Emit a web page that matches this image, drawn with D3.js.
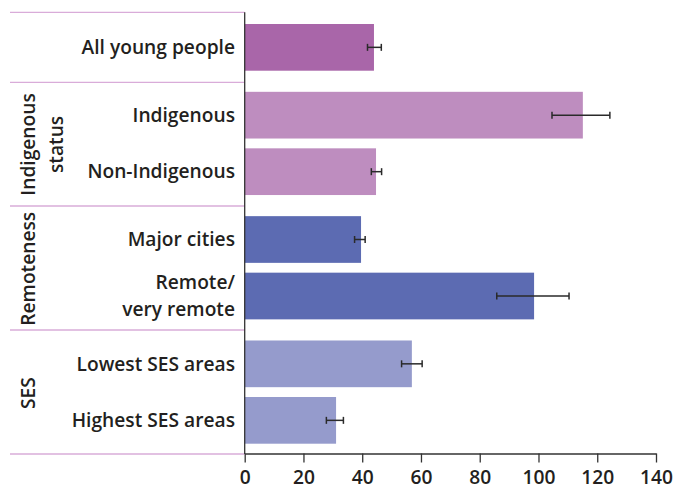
<!DOCTYPE html>
<html>
<head>
<meta charset="utf-8">
<script src="https://cdn.jsdelivr.net/npm/d3@7"></script>
<style>
  html, body { margin: 0; padding: 0; background: #fff; }
  svg text { font-family: "Open Sans", "Noto Sans", sans-serif; font-weight: 600; fill: #231f20; }
</style>
</head>
<body>
<svg id="chart" width="674" height="489"></svg>
<script>
// Rates by population group, with confidence intervals
const categories = ["All young people", "Indigenous", "Non-Indigenous", "Major cities", "Remote/\nvery remote", "Lowest SES areas", "Highest SES areas"];
const groups = ["All", "Indigenous status", "Indigenous status", "Remoteness", "Remoteness", "SES", "SES"];
const values = [44.0, 115.1, 44.7, 39.6, 98.5, 56.9, 31.1];
const lower = [41.8, 104.6, 43.1, 37.4, 85.8, 53.4, 27.8];
const upper = [46.5, 124.3, 46.6, 41.0, 110.4, 60.4, 33.6];
const groupLabels = [
  { name: "Indigenous status", lines: ["Indigenous", "status"] },
  { name: "Remoteness", lines: ["Remoteness"] },
  { name: "SES", lines: ["SES"] }
];
const xTicks = [0, 20, 40, 60, 80, 100, 120, 140];
const colors = { "All": "#a966a9", "Indigenous status": "#be8dbf", "Remoteness": "#5c6bb2", "SES": "#959bcc" };

const fontSize = 19.2;
const svg = d3.select("#chart");
const x0 = 244.7, xMaxPx = 656;
const x = d3.scaleLinear().domain([0, 140]).range([x0, xMaxPx]);

// slot positions: extra spacing between groups
const slots = [];
let pos = 0;
groups.forEach((g, i) => {
  if (i > 0 && g !== groups[i - 1]) pos += 0.2;
  slots.push(pos);
  pos += 1;
});
const y = d3.scaleLinear().domain([0, slots[slots.length - 1]]).range([24, 397]);
const barH = 46.7;

// group separator lines
const sepY = [12.3, 82.3, 206, 330, 454];
svg.selectAll("line.sep").data(sepY).join("line")
  .attr("x1", 10).attr("x2", x0)
  .attr("y1", d => d).attr("y2", d => d)
  .attr("stroke", "#d9acd9").attr("stroke-width", 1.3);

// bars
svg.selectAll("rect.bar").data(values).join("rect")
  .attr("x", x(0))
  .attr("y", (d, i) => y(slots[i]))
  .attr("width", d => x(d) - x(0))
  .attr("height", barH)
  .attr("fill", (d, i) => colors[groups[i]]);

// error bars
const eb = svg.append("g").attr("stroke", "#2a2a2a").attr("stroke-width", 1.5);
values.forEach((v, i) => {
  const cy = y(slots[i]) + barH / 2;
  eb.append("line").attr("x1", x(lower[i])).attr("x2", x(upper[i])).attr("y1", cy).attr("y2", cy);
  [lower[i], upper[i]].forEach(e => {
    eb.append("line").attr("x1", x(e)).attr("x2", x(e)).attr("y1", cy - 3.5).attr("y2", cy + 3.5);
  });
});

// category labels
categories.forEach((c, i) => {
  const cy = y(slots[i]) + barH / 2;
  const lines = c.split("\n");
  const t = svg.append("text")
    .attr("x", 235).attr("text-anchor", "end")
    .attr("font-size", fontSize);
  lines.forEach((ln, j) => {
    t.append("tspan").attr("x", 235)
      .attr("y", cy + (j - (lines.length - 1) / 2) * 27)
      .attr("dy", "0.35em").text(ln);
  });
});

// group labels (rotated)
groupLabels.forEach(gl => {
  const idx = groups.map((g, i) => g === gl.name ? i : -1).filter(i => i >= 0);
  const top = y(slots[idx[0]]), bot = y(slots[idx[idx.length - 1]]) + barH;
  const cy = (top + bot) / 2 + 1;
  const t = svg.append("text")
    .attr("transform", `translate(28,${cy}) rotate(-90)`)
    .attr("text-anchor", "middle")
    .attr("font-size", fontSize);
  gl.lines.forEach((ln, j) => {
    t.append("tspan").attr("x", 0)
      .attr("y", j * 28)
      .attr("dy", "0.35em").text(ln);
  });
});

// vertical axis line
svg.append("line").attr("x1", x0).attr("x2", x0).attr("y1", 12.3).attr("y2", 454)
  .attr("stroke", "#333").attr("stroke-width", 1.3);

// x axis
const axis = d3.axisBottom(x).tickValues(xTicks).tickSize(9).tickSizeOuter(0).tickPadding(8);
const gx = svg.append("g").attr("transform", "translate(0,453.5)").call(axis);
gx.select(".domain").attr("stroke", "#333").attr("stroke-width", 1.3);
gx.selectAll(".tick line").attr("stroke", "#333").attr("stroke-width", 1.3);
gx.selectAll(".tick text").attr("font-size", fontSize)
  .attr("font-family", "\"Open Sans\", sans-serif").attr("font-weight", 600).attr("fill", "#231f20");
</script>
</body>
</html>
